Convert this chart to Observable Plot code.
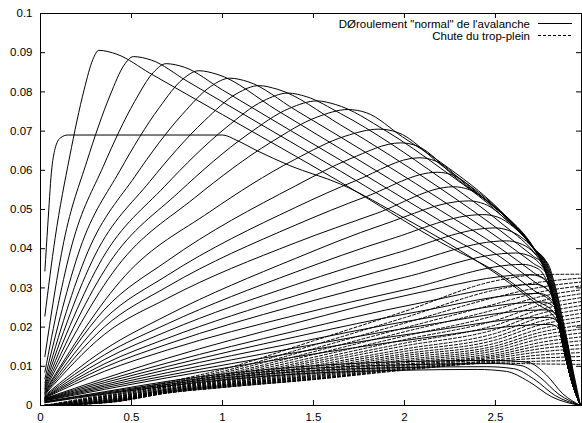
<!DOCTYPE html>
<html><head><meta charset="utf-8">
<script src="https://cdn.jsdelivr.net/npm/d3@7"></script>
<script src="https://cdn.jsdelivr.net/npm/@observablehq/plot@0.6"></script>
<style>body{margin:0;background:#fff} svg{display:block}</style>
</head><body><div id="chart"></div>
<script>
const xTicks = [0, 0.5, 1, 1.5, 2, 2.5];
const yTicks = [0, 0.01, 0.02, 0.03, 0.04, 0.05, 0.06, 0.07, 0.08, 0.09, 0.1];
const legendLabels = ['DØroulement "normal" de l\'avalanche', "Chute du trop-plein"];

// first profile with the plateau
const plateauCurve = [[0.024,0.0343],[0.04,0.046],[0.06,0.0595],[0.08,0.0655],[0.11,0.0683],[0.15,0.069],[1.0,0.069],[1.08,0.0676],[1.19,0.065],[1.37,0.0612],[1.648,0.0565],[2.0,0.0478],[2.2,0.0425],[2.4,0.0368],[2.53,0.0328],[2.71,0.0265],[2.845,0.0212],[2.875,0.0145],[2.92,0.006],[2.967,0]];
// common front near the end of the track
const frontTail = [[2.76,0.0362],[2.80,0.0305],[2.835,0.0235],[2.875,0.0145],[2.92,0.006],[2.967,0]];
// profiles k1..k5: peaks along the top, long descents reaching the front low down
const solidFirst = [
 [[0.024,0.0228],[0.08,0.0426],[0.16,0.0634],[0.24,0.0806],[0.288,0.0883],[0.32,0.0906],[0.42,0.0896],[0.6,0.0848],[1.0,0.0742],[1.648,0.057],[2.2,0.0416],[2.53,0.0333],[2.71,0.0272],[2.838,0.0228],[2.875,0.0145],[2.92,0.006],[2.967,0]],
 [[0.024,0.0125],[0.128,0.0418],[0.255,0.0623],[0.383,0.0792],[0.459,0.0868],[0.51,0.089],[0.61,0.0881],[0.8,0.0829],[1.2,0.072],[1.648,0.0598],[2.2,0.0443],[2.53,0.0355],[2.71,0.0294],[2.825,0.0255],[2.875,0.0145],[2.92,0.006],[2.967,0]],
 [[0.024,0.0085],[0.173,0.041],[0.345,0.061],[0.518,0.0776],[0.621,0.085],[0.69,0.0872],[0.79,0.0863],[1.0,0.0805],[1.35,0.0708],[1.648,0.0626],[2.2,0.047],[2.53,0.0378],[2.71,0.0317],[2.811,0.0282],[2.835,0.0235],[2.875,0.0145],[2.92,0.006],[2.967,0]],
 [[0.024,0.0068],[0.218,0.0401],[0.435,0.0598],[0.653,0.076],[0.783,0.0833],[0.87,0.0854],[0.97,0.0845],[1.3,0.0753],[1.648,0.0655],[2.2,0.0497],[2.53,0.04],[2.71,0.0339],[2.797,0.0309],[2.835,0.0235],[2.875,0.0145],[2.92,0.006],[2.967,0]],
 [[0.024,0.0058],[0.26,0.0392],[0.52,0.0585],[0.78,0.0743],[0.936,0.0814],[1.04,0.0835],[1.14,0.0826],[1.4,0.0754],[1.648,0.0685],[2.2,0.0525],[2.53,0.0423],[2.71,0.0362],[2.776,0.0339],[2.80,0.0305],[2.835,0.0235],[2.875,0.0145],[2.92,0.006],[2.967,0]]
];
// profiles k6..k10, ending on the common front
const solidEarly = [
 [[0.024,0.0052],[0.30,0.0384],[0.60,0.0571],[0.90,0.0726],[1.08,0.0796],[1.20,0.0816],[1.30,0.0807],[1.648,0.0716],[2.2,0.0553],[2.53,0.0445],[2.71,0.038]],
 [[0.024,0.0047],[0.34,0.0375],[0.68,0.0558],[1.02,0.0709],[1.224,0.0777],[1.36,0.0797],[1.46,0.0788],[1.648,0.0745],[2.2,0.058],[2.53,0.0466],[2.71,0.0392]],
 [[0.024,0.0043],[0.38,0.0365],[0.76,0.0544],[1.14,0.0692],[1.368,0.0758],[1.52,0.0777],[1.62,0.0768],[1.9,0.07],[2.2,0.0605],[2.53,0.0486],[2.71,0.04]],
 [[0.024,0.004],[0.423,0.0355],[0.845,0.0529],[1.268,0.0672],[1.521,0.0736],[1.69,0.0755],[1.79,0.0747],[1.99,0.0685],[2.2,0.0620],[2.53,0.0496],[2.71,0.0403]],
 [[0.024,0.0037],[0.465,0.0331],[0.93,0.0494],[1.395,0.0627],[1.674,0.0687],[1.86,0.0705],[1.96,0.0697],[2.2,0.0614],[2.53,0.0494],[2.71,0.0402]]
];
// profiles k11..k17: inner humps, then onto the front (each a little further right)
const solidMid = [
 [[0.024,0.0034],[0.35,0.0244],[0.7,0.037],[1.4,0.056],[1.7,0.0629],[1.98,0.067],[2.07,0.0662],[2.3,0.0574],[2.53,0.0493],[2.71,0.0402],[2.764,0.0362],[2.804,0.0305],[2.839,0.0235],[2.879,0.0145],[2.922,0.006],[2.967,0]],
 [[0.024,0.0032],[0.35,0.022],[0.7,0.0333],[1.4,0.0505],[1.74,0.0575],[2.08,0.0632],[2.17,0.0624],[2.36,0.0555],[2.53,0.0492],[2.71,0.0401],[2.768,0.0362],[2.808,0.0305],[2.843,0.0235],[2.883,0.0145],[2.924,0.006],[2.967,0]],
 [[0.024,0.003],[0.35,0.02],[0.7,0.0304],[1.4,0.046],[1.79,0.0533],[2.18,0.0595],[2.27,0.0587],[2.42,0.0535],[2.55,0.0483],[2.71,0.0401],[2.772,0.0362],[2.812,0.0305],[2.847,0.0235],[2.887,0.0145],[2.926,0.006],[2.967,0]],
 [[0.024,0.0028],[0.35,0.0181],[0.7,0.0274],[1.4,0.0415],[1.84,0.0489],[2.27,0.0558],[2.36,0.055],[2.5,0.0503],[2.62,0.0452],[2.71,0.0401],[2.776,0.0362],[2.816,0.0305],[2.851,0.0235],[2.891,0.0145],[2.928,0.006],[2.967,0]],
 [[0.024,0.0026],[0.35,0.0142],[0.7,0.0231],[1.4,0.0375],[1.88,0.0461],[2.35,0.0522],[2.44,0.0514],[2.56,0.0474],[2.64,0.0439],[2.71,0.0400],[2.78,0.0362],[2.82,0.0305],[2.855,0.0235],[2.895,0.0145],[2.93,0.006],[2.967,0]],
 [[0.024,0.0024],[0.35,0.0129],[0.7,0.0209],[1.4,0.034],[1.92,0.0424],[2.43,0.0487],[2.51,0.0481],[2.6,0.0455],[2.67,0.0424],[2.72,0.0397],[2.784,0.0362],[2.824,0.0305],[2.859,0.0235],[2.899,0.0145],[2.932,0.006],[2.967,0]],
 [[0.024,0.0022],[0.35,0.0117],[0.7,0.019],[1.4,0.0308],[1.95,0.0388],[2.5,0.0453],[2.57,0.0447],[2.64,0.043],[2.70,0.0405],[2.74,0.038],[2.788,0.0362],[2.828,0.0305],[2.863,0.0235],[2.903,0.0145],[2.934,0.006],[2.967,0]]
];
// later, lower profiles k18..k27 with their own drop into the corner
const solidLate = [
 [[0.024,0.0021],[0.35,0.0106],[0.7,0.0172],[1.4,0.028],[1.98,0.0357],[2.56,0.042],[2.63,0.0414],[2.7,0.0395],[2.75,0.0366],[2.80,0.031],[2.845,0.0225],[2.885,0.0135],[2.93,0.0052],[2.967,0]],
 [[0.024,0.002],[0.35,0.0097],[0.7,0.0157],[1.4,0.0255],[2.0,0.0327],[2.61,0.0389],[2.68,0.0383],[2.74,0.0364],[2.78,0.0337],[2.815,0.0285],[2.855,0.0205],[2.89,0.0125],[2.93,0.005],[2.967,0]],
 [[0.024,0.0019],[0.35,0.0087],[0.7,0.0142],[1.4,0.023],[2.02,0.0297],[2.65,0.036],[2.71,0.0354],[2.76,0.0337],[2.79,0.031],[2.825,0.0255],[2.86,0.0185],[2.895,0.011],[2.935,0.0042],[2.967,0]],
 [[0.024,0.0018],[0.35,0.0069],[0.7,0.0121],[1.4,0.021],[2.05,0.0285],[2.69,0.0334],[2.75,0.0327],[2.79,0.0308],[2.815,0.0275],[2.845,0.022],[2.875,0.0155],[2.905,0.0088],[2.94,0.0032],[2.967,0]],
 [[0.024,0.0017],[0.35,0.0063],[0.7,0.0109],[1.4,0.019],[2.06,0.0259],[2.72,0.0309],[2.77,0.0302],[2.81,0.0278],[2.83,0.0245],[2.86,0.019],[2.89,0.0125],[2.92,0.0065],[2.967,0]],
 [[0.024,0.0016],[0.35,0.0058],[0.7,0.01],[1.4,0.0175],[2.07,0.0239],[2.74,0.0286],[2.79,0.0278],[2.83,0.0252],[2.85,0.022],[2.875,0.0165],[2.90,0.0105],[2.93,0.005],[2.967,0]],
 [[0.024,0.0015],[0.35,0.0053],[0.7,0.0092],[1.4,0.016],[2.08,0.022],[2.76,0.0264],[2.81,0.0256],[2.85,0.0228],[2.87,0.0195],[2.89,0.0145],[2.915,0.0088],[2.94,0.004],[2.967,0]],
 [[0.024,0.0014],[0.35,0.0049],[0.7,0.0084],[1.4,0.0147],[2.09,0.0203],[2.78,0.0244],[2.83,0.0234],[2.87,0.0198],[2.89,0.0165],[2.91,0.012],[2.93,0.0068],[2.95,0.0028],[2.967,0]],
 [[0.024,0.0013],[0.35,0.0045],[0.7,0.0077],[1.4,0.0135],[2.1,0.0187],[2.79,0.0225],[2.84,0.0215],[2.88,0.0178],[2.90,0.0145],[2.92,0.0098],[2.94,0.0052],[2.967,0]],
 [[0.024,0.0012],[0.35,0.0041],[0.7,0.0071],[1.4,0.0124],[2.1,0.0172],[2.8,0.0207],[2.85,0.0196],[2.89,0.016],[2.91,0.0128],[2.93,0.0082],[2.95,0.0038],[2.967,0]]
];
// last, flat draining profiles falling into the corner
const solidDrain = [
 [[0.024,0.001],[0.35,0.0035],[0.7,0.0062],[1.4,0.0098],[2.0,0.0112],[2.5,0.0115],[2.68,0.011],[2.78,0.0078],[2.87,0.003],[2.967,0]],
 [[0.024,0.0009],[0.35,0.0033],[0.7,0.0058],[1.4,0.0092],[2.0,0.0104],[2.5,0.0107],[2.64,0.0102],[2.74,0.0074],[2.85,0.0028],[2.967,0]],
 [[0.024,0.0008],[0.35,0.0031],[0.7,0.0054],[1.4,0.0086],[2.0,0.0097],[2.45,0.0099],[2.6,0.0094],[2.71,0.0068],[2.83,0.0025],[2.967,0]],
 [[0.024,0.0007],[0.35,0.0029],[0.7,0.005],[1.4,0.008],[2.0,0.009],[2.4,0.0092],[2.56,0.0087],[2.68,0.0062],[2.81,0.0022],[2.967,0]]
];
// "Chute du trop-plein": x positions and one row of heights per profile
const dashX = [0.02, 0.4, 0.7, 1.0, 1.5, 2.0, 2.5, 2.75, 2.97];
const dashRows = [
 [0,0.0009,0.0032,0.0046,0.0066,0.0090,0.0108,0.0106,0.0105],
 [0,0.0009,0.0032,0.0046,0.0067,0.0092,0.0110,0.0113,0.0115],
 [0,0.0010,0.0033,0.0047,0.0068,0.0094,0.0113,0.0121,0.0125],
 [0,0.0010,0.0033,0.0048,0.0070,0.0096,0.0116,0.0129,0.0135],
 [0,0.0010,0.0034,0.0049,0.0072,0.0099,0.0121,0.0137,0.0145],
 [0,0.0011,0.0034,0.0050,0.0074,0.0102,0.0125,0.0145,0.0155],
 [0,0.0011,0.0035,0.0051,0.0076,0.0105,0.0129,0.0153,0.0165],
 [0,0.0012,0.0036,0.0052,0.0078,0.0109,0.0134,0.0161,0.0175],
 [0,0.0012,0.0036,0.0053,0.0081,0.0113,0.0140,0.0170,0.0185],
 [0,0.0013,0.0037,0.0054,0.0084,0.0117,0.0146,0.0179,0.0195],
 [0,0.0014,0.0038,0.0056,0.0087,0.0122,0.0152,0.0187,0.0205],
 [0,0.0015,0.0039,0.0057,0.0090,0.0127,0.0159,0.0196,0.0215],
 [0,0.0015,0.0040,0.0059,0.0094,0.0132,0.0167,0.0206,0.0225],
 [0,0.0016,0.0041,0.0061,0.0098,0.0138,0.0175,0.0215,0.0235],
 [0,0.0017,0.0042,0.0063,0.0102,0.0144,0.0184,0.0225,0.0245],
 [0,0.0018,0.0043,0.0065,0.0107,0.0152,0.0194,0.0235,0.0255],
 [0,0.0020,0.0045,0.0067,0.0112,0.0159,0.0205,0.0245,0.0265],
 [0,0.0021,0.0047,0.0070,0.0117,0.0168,0.0217,0.0256,0.0275],
 [0,0.0022,0.0048,0.0073,0.0123,0.0177,0.0230,0.0267,0.0285],
 [0,0.0024,0.0050,0.0076,0.0130,0.0188,0.0245,0.0278,0.0295],
 [0,0.0026,0.0052,0.0079,0.0137,0.0198,0.0259,0.0290,0.0305],
 [0,0.0027,0.0054,0.0083,0.0145,0.0210,0.0276,0.0302,0.0315],
 [0,0.0029,0.0057,0.0087,0.0154,0.0224,0.0295,0.0315,0.0325],
 [0,0.0032,0.0060,0.0092,0.0165,0.0240,0.0318,0.0334,0.0335]
];

const solidRows = [], dashTable = [];
const add = (arr, pts, id) => pts.forEach(([x, y]) => arr.push({id, x, y}));
add(solidRows, plateauCurve, "p");
solidFirst.forEach((c, i) => add(solidRows, c, "f" + i));
solidEarly.forEach((c, i) => add(solidRows, c.concat(frontTail), "e" + i));
solidMid.forEach((c, i) => add(solidRows, c, "m" + i));
solidLate.forEach((c, i) => add(solidRows, c, "l" + i));
solidDrain.forEach((c, i) => add(solidRows, c, "r" + i));
dashRows.forEach((r, i) => add(dashTable, r.map((y, j) => [dashX[j], y]), "d" + i));

const font = "'Liberation Sans', Arial, Helvetica, sans-serif";
const chart = Plot.plot({
  width: 582, height: 423,
  marginLeft: 40, marginRight: 1, marginTop: 13, marginBottom: 18,
  style: {fontFamily: font, fontSize: "11.5px", background: "white", color: "black"},
  x: {domain: [0, 2.973], label: null},
  y: {domain: [0, 0.1], label: null},
  marks: [
    Plot.line(dashTable, {x: "x", y: "y", z: "id", curve: "monotone-x", stroke: "black", strokeWidth: 1, strokeDasharray: "3,2"}),
    Plot.line(solidRows, {x: "x", y: "y", z: "id", curve: "monotone-x", stroke: "black", strokeWidth: 1}),
    Plot.frame({stroke: "black", strokeWidth: 1}),
    Plot.axisX(xTicks, {tickSize: 0, tickPadding: 7, tickFormat: d => String(d)}),
    Plot.axisY(yTicks, {tickSize: 0, tickPadding: 8, tickFormat: d => String(d)}),
    Plot.tickX(xTicks, {x: d => d, insetTop: 387, stroke: "black"}),
    Plot.tickX(xTicks, {x: d => d, insetBottom: 387, stroke: "black"}),
    Plot.tickY(yTicks, {y: d => d, insetRight: 536, stroke: "black"}),
    Plot.tickY(yTicks, {y: d => d, insetLeft: 536, stroke: "black"})
  ]
});
document.getElementById("chart").appendChild(chart);

// legend, gnuplot style, inside the top right corner
const lg = d3.select(chart).append("g").attr("font-family", font).attr("font-size", 11.5).attr("fill", "black");
legendLabels.forEach((t, i) => {
  const y = 23.5 + 12 * i;
  lg.append("text").attr("x", 530).attr("y", y).attr("dy", "0.35em").attr("text-anchor", "end").text(t);
  const ln = lg.append("line").attr("x1", 538).attr("x2", 572).attr("y1", y).attr("y2", y)
    .attr("stroke", "black").attr("stroke-width", 1);
  if (i === 1) ln.attr("stroke-dasharray", "3,2");
});
</script>
</body></html>
